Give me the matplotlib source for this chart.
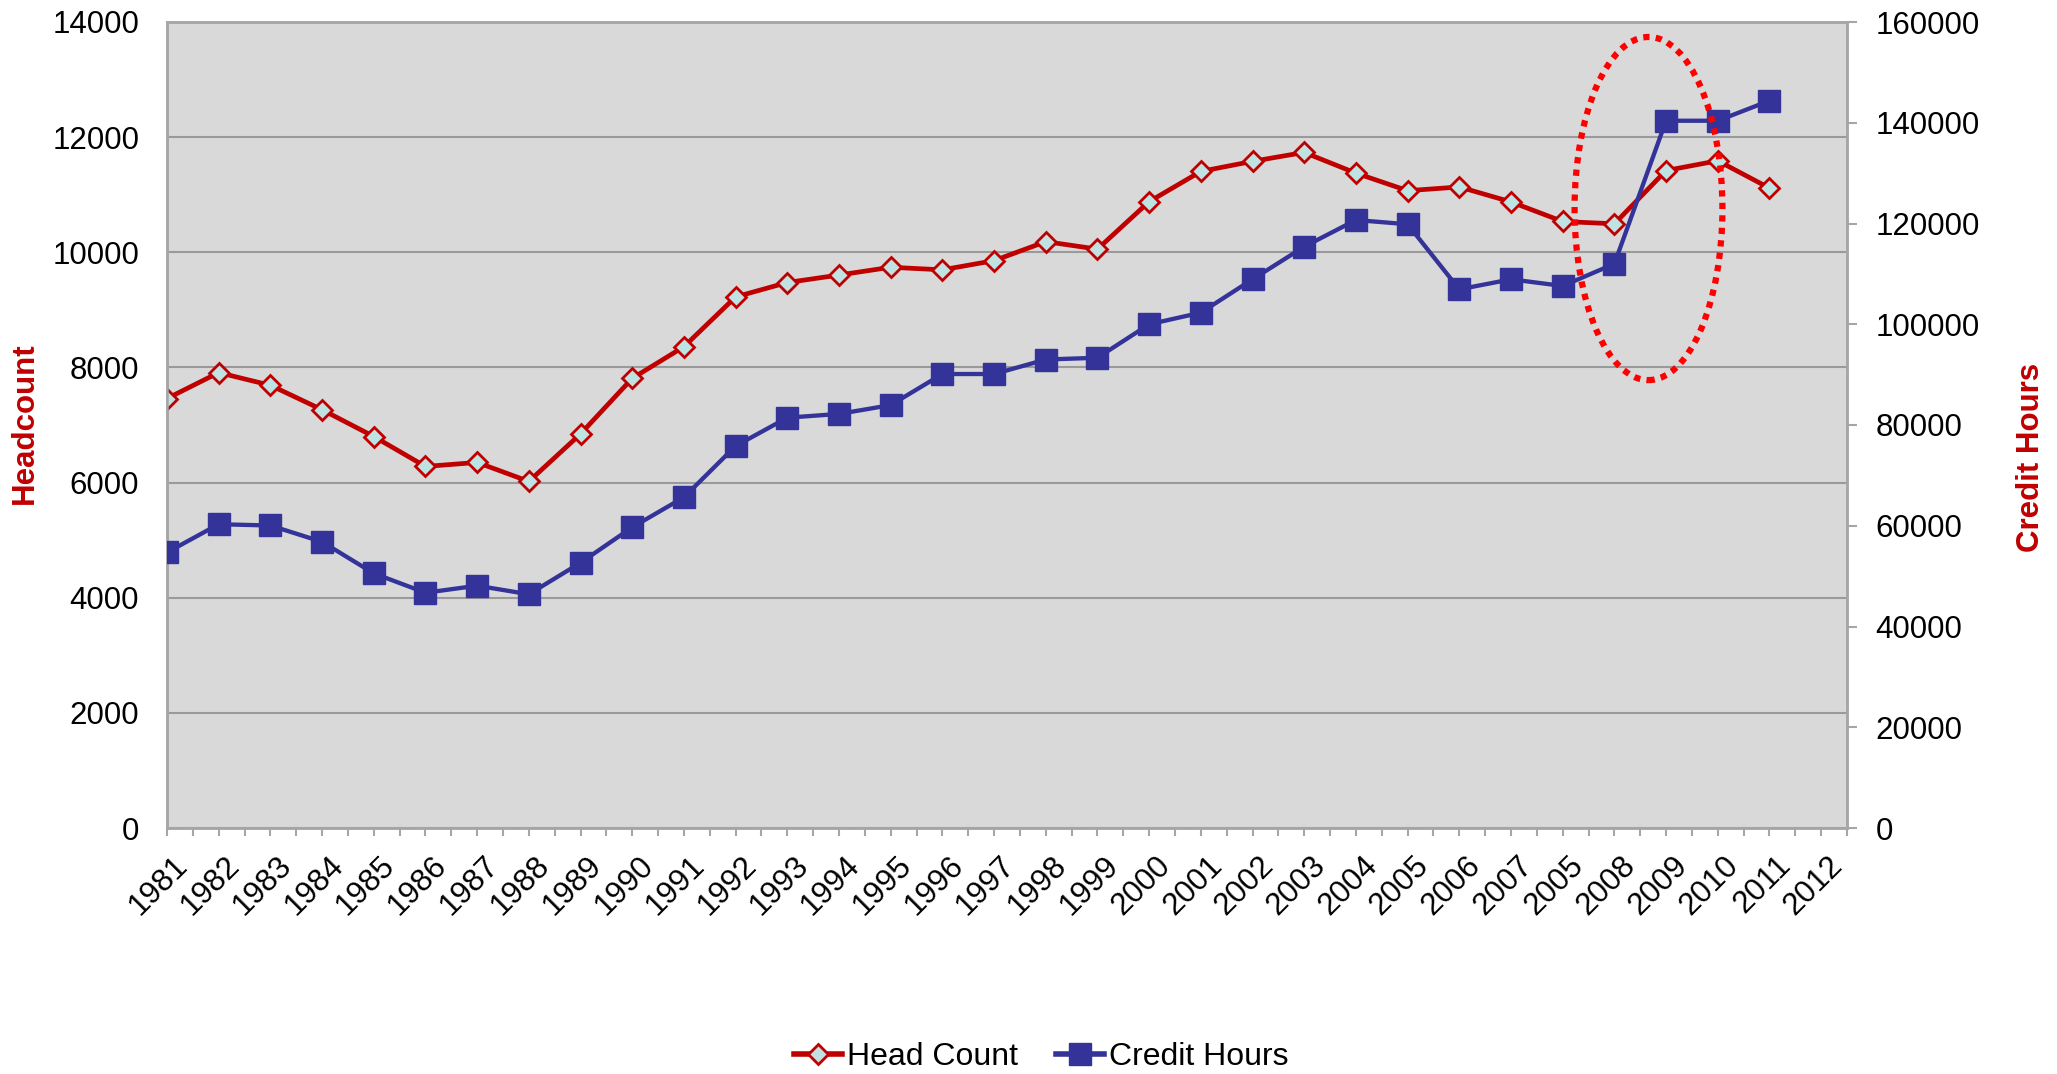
import numpy as np
import matplotlib
matplotlib.use("Agg")
import matplotlib.pyplot as plt
import matplotlib.transforms as mtransforms
from matplotlib.patches import Ellipse
from matplotlib.lines import Line2D

plt.rcParams["font.family"] = ["Liberation Sans", "DejaVu Sans"]

# Category labels (the original chart has "2005" repeated after 2007)
years = ["1981", "1982", "1983", "1984", "1985", "1986", "1987", "1988", "1989", "1990",
         "1991", "1992", "1993", "1994", "1995", "1996", "1997", "1998", "1999", "2000",
         "2001", "2002", "2003", "2004", "2005", "2006", "2007", "2005", "2008", "2009",
         "2010", "2011", "2012"]

head_count = [7460, 7910, 7690, 7265, 6800, 6280, 6350, 6020, 6845, 7810,
              8360, 9225, 9475, 9605, 9740, 9695, 9855, 10185, 10055, 10880,
              11405, 11580, 11735, 11375, 11070, 11135, 10875, 10535, 10495, 11420,
              11590, 11115]

credit_hours = [54700, 60300, 60050, 56800, 50550, 46700, 48100, 46400, 52650, 59700,
                65650, 75830, 81450, 82200, 83950, 90120, 90120, 93000, 93350, 99990,
                102300, 108920, 115400, 120690, 119850, 106930, 108920, 107600, 112000, 140400,
                140400, 144370]

hc_ticks = [0, 2000, 4000, 6000, 8000, 10000, 12000, 14000]
ch_ticks = [0, 20000, 40000, 60000, 80000, 100000, 120000, 140000, 160000]

RED = "#C00000"
BLUE = "#333399"
FILL = "#BFE3E3"
GRID = "#9A9A9A"
AXIS = "#A6A6A6"

fig = plt.figure(figsize=(20.57, 10.74), dpi=100)
ax = fig.add_axes([167 / 2057, 1 - 828 / 1074, 1680 / 2057, 806 / 1074])
ax.set_facecolor("#D9D9D9")

x_hc = np.arange(len(head_count))
x_ch = np.arange(len(credit_hours))

ax.plot(x_hc, head_count, color=RED, lw=3.4, marker="D", ms=10.5,
        mfc=FILL, mec=RED, mew=2, zorder=3)

ax.set_xlim(0, 32.5)
ax.set_ylim(0, 14000)
ax.set_yticks(hc_ticks)
ax.set_yticklabels([str(v) for v in hc_ticks])
ax.yaxis.grid(True, color=GRID, lw=1.5)
ax.set_axisbelow(True)
ax.tick_params(axis="y", length=0, pad=20, labelsize=22.5)

ax.set_xticks(np.arange(len(years)))
ax.set_xticks(np.arange(0.5, 32.6, 1.0), minor=True)
ax.set_xticklabels(years, rotation=45, ha="right", va="top", rotation_mode="anchor")
ax.tick_params(axis="x", which="both", length=6, width=1.5, color=AXIS,
               direction="out", pad=10, labelsize=22.5)
shift = mtransforms.ScaledTranslation(6 / 100, 0, fig.dpi_scale_trans)
for lab in ax.get_xticklabels():
    lab.set_transform(lab.get_transform() + shift)

for s in ["left", "bottom", "top", "right"]:
    ax.spines[s].set_color(AXIS)
    ax.spines[s].set_linewidth(1.8)

ax2 = ax.twinx()
ax2.plot(x_ch, credit_hours, color=BLUE, lw=3.1, marker="s", ms=16,
         mfc=BLUE, mec=BLUE, zorder=3)
ax2.set_ylim(0, 160000)
ax2.set_yticks(ch_ticks)
ax2.set_yticklabels([str(v) for v in ch_ticks])
ax2.tick_params(axis="y", length=7, width=1.5, color=AXIS, pad=13.5, labelsize=22.5)
for s in ["left", "bottom", "top", "right"]:
    ax2.spines[s].set_color(AXIS)
    ax2.spines[s].set_linewidth(1.8)

# dotted highlight around the 2008-2009 jump
ell = Ellipse((28.66, 10760), 2.86, 5960, transform=ax.transData, fill=False,
              edgecolor="#FF0000", lw=4.5, linestyle=(0, (1, 1)), zorder=10)
ax2.add_patch(ell)

fig.text(25 / 2057, 1 - 423 / 1074, "Headcount", rotation=90, ha="center", va="center",
         color=RED, fontsize=22.5, fontweight="bold")
fig.text(2031 / 2057, 1 - 457 / 1074, "Credit Hours", rotation=90, ha="center", va="center",
         color=RED, fontsize=22.5, fontweight="bold")

handles = [
    Line2D([], [], color=RED, lw=4, marker="D", ms=10.5, mfc=FILL, mec=RED, mew=2),
    Line2D([], [], color=BLUE, lw=4, marker="s", ms=16, mfc=BLUE, mec=BLUE),
]
fig.legend(handles, ["Head Count", "Credit Hours"], loc="center",
           bbox_to_anchor=(1041 / 2057, 1 - 1057 / 1074), ncol=2, frameon=False,
           fontsize=23, handlelength=1.5, handletextpad=0.15, columnspacing=1.2)

fig.savefig("out.png", dpi=100)
